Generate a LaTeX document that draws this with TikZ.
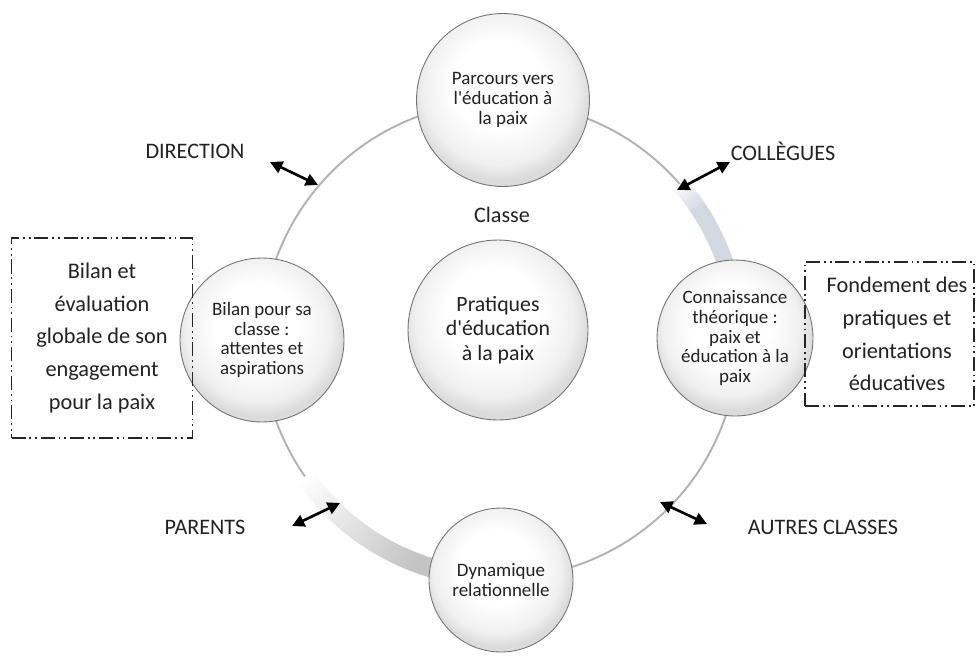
\documentclass[tikz,border=0pt]{standalone}
\usepackage{fontspec}
\setmainfont{Carlito}
\usetikzlibrary{arrows.meta}

% soft white-to-grey fill for the round nodes, slightly darker at the bottom
\pgfdeclareradialshading{bubblefill}{\pgfpoint{-2bp}{6bp}}{%
  color(0bp)=(white); color(13bp)=(white); color(22bp)=(black!6);
  color(26bp)=(black!14); color(50bp)=(black!14)}

\definecolor{bandblue}{HTML}{D3D9E3}
\definecolor{bandgrey}{HTML}{C4C4C4}
\definecolor{ink}{HTML}{222222}

\newcommand{\apos}{\textquotesingle}

\begin{document}
\begin{tikzpicture}[x=0.02cm,y=-0.02cm,
  ring/.style={draw=black!30, line width=1.1pt},
  bubble/.style={circle, draw=black!55, line width=0.5pt, shading=bubblefill,
    inner sep=0pt, align=center, text=ink,
    font=\fontsize{10.8}{11.2}\selectfont},
  hub/.style={bubble, font=\fontsize{12.4}{13.8}\selectfont},
  side/.style={text=ink, font=\fontsize{12.6}{15}\selectfont},
  notebox/.style={draw=black!85, line width=1.1pt, align=center, text=ink,
    dash pattern=on 8pt off 2.2pt on 1pt off 2.2pt on 1pt off 2.2pt,
    font=\fontsize{12.7}{18.6}\selectfont, inner sep=0pt},
  link/.style={{Triangle[length=7pt,width=7pt]}-{Triangle[length=7pt,width=7pt]},
    line width=1.5pt, draw=black}
]
\useasboundingbox (0,0) rectangle (976,664);

% ring of the cycle
\coordinate (c) at (500,340);
\draw[ring] (c) circle[radius=238];

% shaded stretch of the ring, upper right
\foreach \i in {0,...,21}{
  \pgfmathsetmacro\sa{-41+\i}
  \pgfmathsetmacro\ea{\sa+1.3}
  \pgfmathtruncatemacro\k{min(100,15+\i*12)}
  \draw[line width=9.5pt, draw=bandblue!\k!white]
    (c) ++(\sa:238) arc[start angle=\sa, end angle=\ea, radius=238];
}
% shaded stretch of the ring, lower left
\foreach \i in {0,...,37}{
  \pgfmathsetmacro\sa{145-\i}
  \pgfmathsetmacro\ea{\sa-1.3}
  \pgfmathtruncatemacro\k{min(100,\i*3)}
  \draw[line width=11pt, draw=bandgrey!\k!white]
    (c) ++(\sa:238) arc[start angle=\sa, end angle=\ea, radius=238];
}

% round nodes on the ring and in the middle
\node[bubble, minimum size=3.46cm] (top) at (503,100)
  {Parcours vers\\l\apos éducation à\\la paix};
\node[bubble, minimum size=3.28cm] (left) at (262,340)
  {Bilan pour sa\\classe :\\attentes et\\aspirations};
\node[bubble, minimum size=3.12cm] (right) at (735,338)
  {Connaissance\\théorique :\\paix et\\éducation à la\\paix};
\node[bubble, minimum size=2.88cm] (bottom) at (501,580)
  {Dynamique\\relationnelle};
\node[hub, minimum size=3.6cm] (hubnode) at (498,330)
  {Pratiques\\d\apos éducation\\à la paix};
\node[side] (classe) at (502,215) {Classe};

% dash-dot notes at both sides
\node[notebox, minimum width=3.62cm, minimum height=4.0cm] (leftnote) at (102,338)
  {Bilan et\\évaluation\\globale de son\\engagement\\pour la paix};
\node[notebox, minimum width=3.38cm, minimum height=2.88cm] (rightnote) at (889.5,334)
  {\hspace*{0.3cm}Fondement des\\\hspace*{0.3cm}pratiques et\\\hspace*{0.3cm}orientations\\\hspace*{0.3cm}éducatives};

% partners outside the class
\node[side] (direction) at (195,151) {DIRECTION};
\node[side] (collegues) at (783,151) {COLLÈGUES};
\node[side] (parents) at (205,527) {PARENTS};
\node[side] (autres) at (823,527) {AUTRES CLASSES};

\coordinate (dA) at (270,162);  \coordinate (dB) at (318,185);
\coordinate (cA) at (677,190);  \coordinate (cB) at (730,162);
\coordinate (pA) at (340,503);  \coordinate (pB) at (292,526);
\coordinate (aA) at (660,502);  \coordinate (aB) at (707,524);

\draw[link] (dA) -- (dB);
\draw[link] (cA) -- (cB);
\draw[link] (pA) -- (pB);
\draw[link] (aA) -- (aB);
\end{tikzpicture}
\end{document}
